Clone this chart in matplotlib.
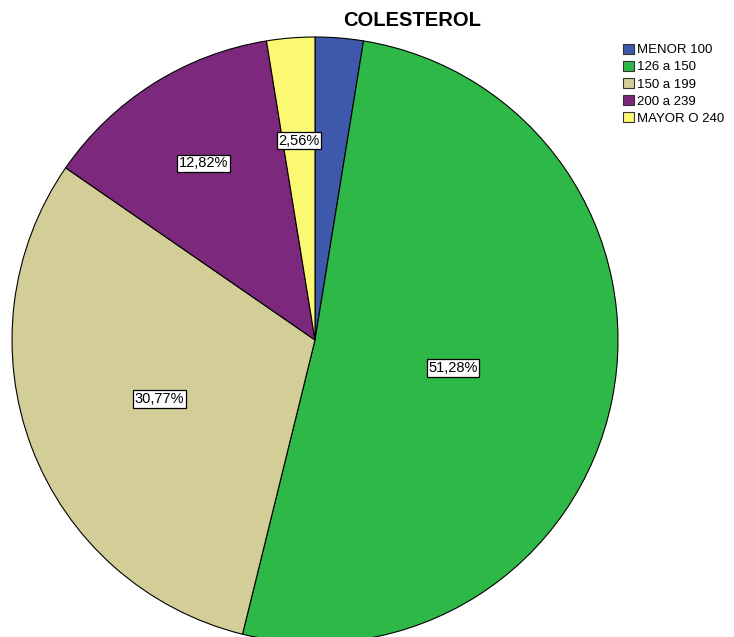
import numpy as np
import matplotlib.pyplot as plt
from matplotlib.patches import Patch

plt.rcParams['font.family'] = ['Liberation Sans', 'DejaVu Sans']

# cholesterol groups and their share of patients (%)
categories = ['MENOR 100', '126 a 150', '150 a 199', '200 a 239', 'MAYOR O 240']
percents = [2.56, 51.28, 30.77, 12.82, 2.56]
show_label = [False, True, True, True, True]
colors = ['#3E58AC', '#2EB848', '#D3CE97', '#7C287D', '#FBF873']
# how far out (fraction of radius) each percent box sits
label_r = [0.6, 0.465, 0.55, 0.69, 0.66]

fig = plt.figure(figsize=(7.34, 6.37), dpi=100)
ax = fig.add_axes([0, 0, 1, 1])
ax.set_aspect('equal')

wedges, _ = ax.pie(percents, colors=colors, startangle=90, counterclock=False,
                   radius=1.0,
                   wedgeprops=dict(edgecolor='black', linewidth=0.8))

for w, p, show, r in zip(wedges, percents, show_label, label_r):
    if not show:
        continue
    mid = np.deg2rad((w.theta1 + w.theta2) / 2)
    ax.text(r * np.cos(mid), r * np.sin(mid), f'{p:.2f}%'.replace('.', ','),
            ha='center', va='center', fontsize=10.5,
            bbox=dict(boxstyle='square,pad=0.12', facecolor='white',
                      edgecolor='black', linewidth=0.9))

# 1 data unit = 303 px, pie centre at (315, 340) px from top-left
ax.set_xlim(-315 / 303, (734 - 315) / 303)
ax.set_ylim(-297 / 303, 340 / 303)
ax.axis('off')

fig.text(412 / 734, 1 - 21 / 637, 'COLESTEROL', ha='center', va='center',
         fontsize=14.5, fontweight='bold')

handles = [Patch(facecolor=c, edgecolor='#333333', linewidth=0.8) for c in colors]
fig.legend(handles, categories, loc='upper left',
           bbox_to_anchor=(616 / 734, 1 - 37 / 637), frameon=False,
           fontsize=9.5, handlelength=0.85, handleheight=0.85,
           handletextpad=0.25, labelspacing=0.32, borderpad=0)

fig.savefig('out.png', dpi=100)
